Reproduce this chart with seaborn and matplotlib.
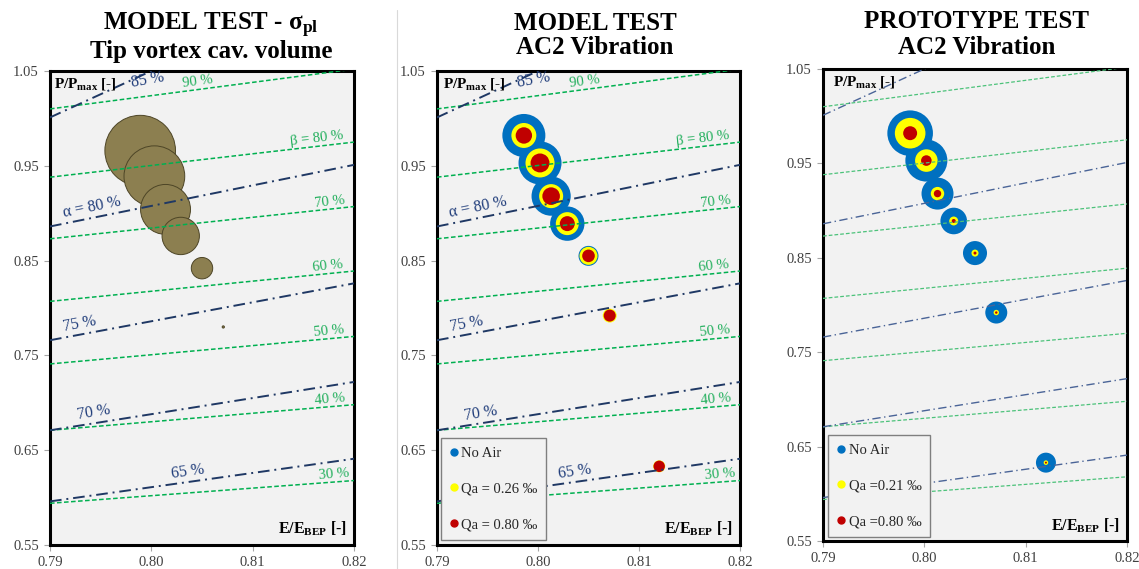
import numpy as np
import pandas as pd
import matplotlib.pyplot as plt
from matplotlib.lines import Line2D
from matplotlib.ticker import FormatStrFormatter
import seaborn as sns

sns.set_theme(style="white")
plt.rcParams['font.family'] = ['Liberation Serif', 'DejaVu Serif']
plt.rcParams['text.color'] = 'black'
plt.rcParams['mathtext.fontset'] = 'custom'
plt.rcParams['mathtext.rm'] = 'Liberation Serif'
plt.rcParams['mathtext.it'] = 'Liberation Serif:italic'
plt.rcParams['mathtext.bf'] = 'Liberation Serif:bold'

# ---- operating points (E/E_BEP, P/Pmax) ----
e_sigma = [0.7989, 0.8003, 0.8014, 0.8029, 0.8050, 0.8071, 0.8120]
p_sigma = [0.966, 0.939, 0.904, 0.876, 0.842, 0.780, 0.633]
tip_volume = [100, 74, 50, 28, 9.2, 0.1, 0]

e_points = [0.7986, 0.8002, 0.8013, 0.8029, 0.8050, 0.8071, 0.8120]
p_points = [0.982, 0.953, 0.918, 0.889, 0.855, 0.792, 0.633]

# AC2 vibration (relative bubble size)
model_no_air = [37.1, 37.1, 30.8, 23.7, 8.0, 0, 0]
model_qa026 = [12.5, 16.9, 11.6, 10.6, 6.5, 3.9, 2.9]
model_qa080 = [5.4, 7.2, 6.2, 4.5, 3.2, 2.9, 2.6]
proto_no_air = [41.7, 35.4, 20.5, 14.2, 11.6, 9.7, 8.0]
proto_qa021 = [18.8, 10.2, 3.6, 1.6, 1.0, 0.59, 0.42]
proto_qa080 = [3.9, 2.25, 1.1, 0.32, 0.18, 0.12, 0.08]

# ---- iso lines: value at E/E_BEP = 0.79 and 0.82 ----
x_ends = [0.79, 0.82]
beta_labels = ['90 %', 'β = 80 %', '70 %', '60 %', '50 %', '40 %', '30 %']
beta_left = [1.010, 0.938, 0.873, 0.807, 0.741, 0.671, 0.594]
beta_right = [1.052, 0.975, 0.907, 0.839, 0.770, 0.698, 0.618]
alpha_labels = ['85 %', 'α = 80 %', '75 %', '70 %', '65 %']
alpha_left = [1.001, 0.886, 0.766, 0.671, 0.596]
alpha_right = [1.148, 0.951, 0.826, 0.722, 0.641]

# label x positions along the lines
beta_lab_x = [0.8046, 0.8163, 0.8176, 0.8174, 0.8175, 0.8176, 0.8180]
alpha_lab_x = [0.7996, 0.7941, 0.7929, 0.7943, 0.8036]

BLUE, YELLOW, RED = '#0070c0', '#ffff00', '#c00000'
OLIVE = '#8c7f50'
S_MAX = 2584  # marker area (pt^2) for a size value of 100

fig = plt.figure(figsize=(11.39, 5.69), dpi=100)
W, H = 1139, 569


def add_ax(left, top, right, bottom):
    return fig.add_axes([left / W, 1 - bottom / H, (right - left) / W, (bottom - top) / H])


ax1 = add_ax(50, 71, 354, 545)
ax2 = add_ax(437, 71, 740, 545)
ax3 = add_ax(823, 69, 1127, 541)


def iso_lines(ax, light=False, labels=True):
    gcol = '#4cc27a' if light else '#00b050'
    bcol = '#4a6497' if light else '#1f3864'
    glw = 0.9 if light else 1.1
    blw = 1.0 if light else 1.4
    for l, r in zip(beta_left, beta_right):
        ax.plot(x_ends, [l, r], color=gcol, lw=glw, dashes=(3, 1.6), zorder=3)
    for l, r in zip(alpha_left, alpha_right):
        ax.plot(x_ends, [l, r], color=bcol, lw=blw, dashes=(6, 2.5, 1, 2.5), zorder=3)
    if not labels:
        return
    for lab, l, r, xl in zip(beta_labels, beta_left, beta_right, beta_lab_x):
        k = (r - l) / 0.03
        ax.text(xl, l + k * (xl - 0.79) + 0.008, lab, color='#1fae5a', fontsize=10.5,
                ha='center', va='center', rotation=np.degrees(np.arctan(k)),
                rotation_mode='anchor', transform_rotates_text=True, zorder=4)
    for lab, l, r, xl in zip(alpha_labels, alpha_left, alpha_right, alpha_lab_x):
        k = (r - l) / 0.03
        off = -0.008 if lab == '85 %' else 0.011
        ax.text(xl, l + k * (xl - 0.79) + off, lab, color='#1f3c7a', fontsize=11.5,
                ha='center', va='center', rotation=np.degrees(np.arctan(k)) * (0.8 if lab == '85 %' else 1),
                rotation_mode='anchor', transform_rotates_text=True, zorder=4)


def bubbles(ax, x, y, vals, color, edge='none', lw=0):
    df = pd.DataFrame({'x': x, 'y': y, 'v': vals})
    df = df[df['v'] > 0]
    sns.scatterplot(data=df, x='x', y='y', size='v', sizes=(0, S_MAX), size_norm=(0, 100),
                    color=color, edgecolor=edge, linewidth=lw, legend=False, ax=ax, zorder=2)


def style_ax(ax, top_label_x):
    ax.set_xlim(0.79, 0.82)
    ax.set_ylim(0.55, 1.05)
    ax.set_xticks([0.79, 0.80, 0.81, 0.82])
    ax.set_yticks([0.55, 0.65, 0.75, 0.85, 0.95, 1.05])
    ax.xaxis.set_major_formatter(FormatStrFormatter('%.2f'))
    ax.yaxis.set_major_formatter(FormatStrFormatter('%.2f'))
    ax.set_facecolor('#f2f2f2')
    ax.set_xlabel('')
    ax.set_ylabel('')
    for s in ax.spines.values():
        s.set_color('black')
        s.set_linewidth(2.2)
    ax.tick_params(axis='both', which='major', direction='out', length=4, width=0.8,
                   color='#a6a6a6', labelcolor='#404040', labelsize=10.5, pad=4,
                   bottom=True, left=True)
    ax.text(top_label_x, 0.966, r'P/P$_{\mathbf{max}}$ [-]', transform=ax.transAxes,
            fontsize=11, fontweight='bold', ha='left', va='baseline', zorder=5)
    ax.text(0.977, 0.023, r'E/E$_{\mathbf{BEP}}$ [-]', transform=ax.transAxes,
            fontsize=11.5, fontweight='bold', ha='right', va='baseline', zorder=5)


def add_legend(ax, labels, anchor):
    handles = [Line2D([], [], marker='o', ls='', color=c, markersize=5)
               for c in (BLUE, YELLOW, RED)]
    leg = ax.legend(handles, labels, loc='lower left', bbox_to_anchor=anchor,
                    borderaxespad=0, frameon=True, fancybox=False, edgecolor='#7f7f7f',
                    facecolor='#f2f2f2', framealpha=1, fontsize=10.5, labelspacing=1.55,
                    handlelength=0.6, handletextpad=0.2, borderpad=0.6)
    leg.get_frame().set_linewidth(1.0)
    for t in leg.get_texts():
        t.set_color('#262626')
    leg.set_zorder(6)


# panel 1 - tip vortex cavitation volume
bubbles(ax1, e_sigma, p_sigma, tip_volume, OLIVE, edge='#4d4526', lw=0.7)
iso_lines(ax1)
style_ax(ax1, 0.012)

# panel 2 - model test AC2 vibration
bubbles(ax2, e_points, p_points, model_no_air, BLUE)
bubbles(ax2, e_points, p_points, model_qa026, YELLOW)
bubbles(ax2, e_points, p_points, model_qa080, RED)
iso_lines(ax2)
style_ax(ax2, 0.02)
add_legend(ax2, ['No Air', 'Qa = 0.26 ‰', 'Qa = 0.80 ‰'], (0.012, 0.0105))

# panel 3 - prototype test AC2 vibration
bubbles(ax3, e_points, p_points, proto_no_air, BLUE)
bubbles(ax3, e_points, p_points, proto_qa021, YELLOW)
bubbles(ax3, e_points, p_points, proto_qa080, RED)
iso_lines(ax3, light=True, labels=False)
style_ax(ax3, 0.033)
add_legend(ax3, ['No Air', 'Qa =0.21 ‰', 'Qa =0.80 ‰'], (0.017, 0.0085))

# titles
title_kw = dict(fontsize=18, fontweight='bold', ha='center', va='baseline', color='black')
fig.text(211 / W, 1 - 30 / H, r'MODEL TEST - σ$_{\mathbf{pl}}$', **title_kw)
fig.text(211 / W, 1 - 58 / H, 'Tip vortex cav. volume', **title_kw)
fig.text(595 / W, 1 - 30 / H, 'MODEL TEST', **title_kw)
fig.text(595 / W, 1 - 54 / H, 'AC2 Vibration', **title_kw)
fig.text(977 / W, 1 - 28 / H, 'PROTOTYPE TEST', **title_kw)
fig.text(977 / W, 1 - 54 / H, 'AC2 Vibration', **title_kw)

# faint separator between the first two panels
fig.add_artist(Line2D([397 / W, 397 / W], [0, 1 - 10 / H], color='#d9d9d9', lw=0.8,
                      transform=fig.transFigure))

fig.savefig('out.png', dpi=100)
